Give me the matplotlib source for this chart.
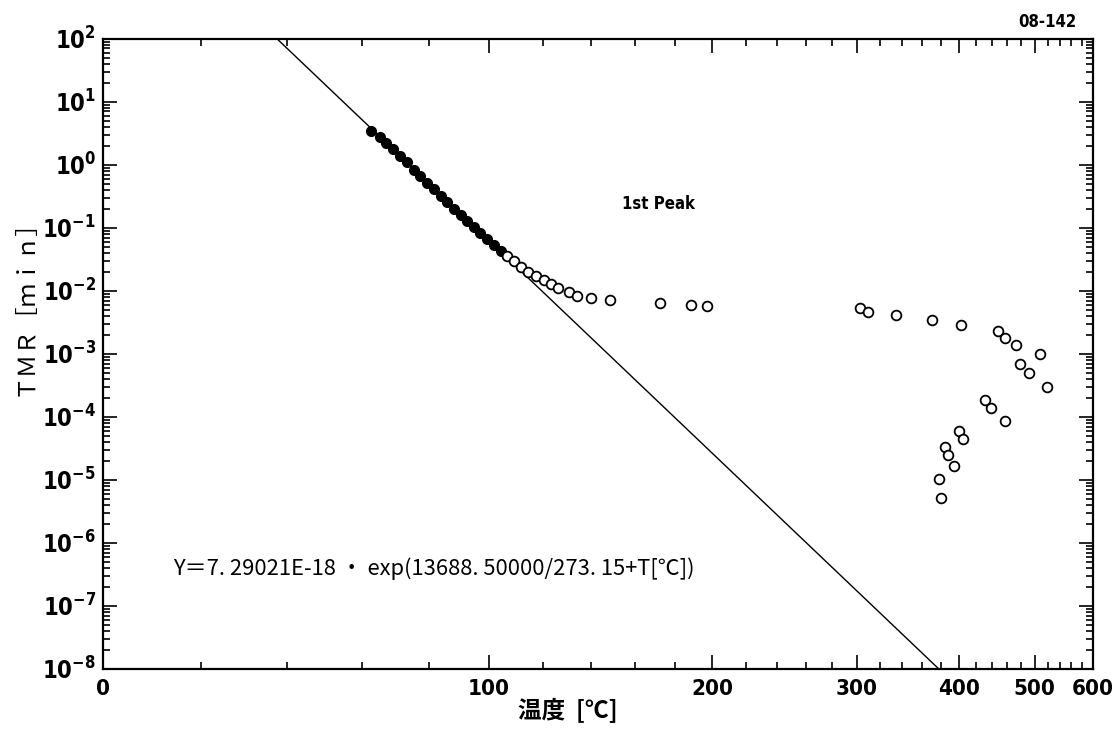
import numpy as np
import matplotlib
matplotlib.use("Agg")
import matplotlib.pyplot as plt
from matplotlib.ticker import FixedLocator, FuncFormatter, NullFormatter, LogLocator

# ---- data ----
filled_T = [62.4, 64.9, 66.9, 68.9, 71.0, 73.1, 75.3, 77.2, 79.4, 81.5,
            83.6, 85.8, 88.0, 90.2, 92.4, 94.6, 96.9, 99.2, 101.6, 104.1]
filled_Y = [3.43, 2.79, 2.24, 1.76, 1.38, 1.09, 0.835, 0.663, 0.514, 0.408,
            0.319, 0.254, 0.201, 0.160, 0.128, 0.103, 0.0818, 0.0657, 0.0533, 0.0433]

open_T = [106.3, 109.0, 111.6, 114.2, 117.2, 120.3, 123.2, 126.0, 130.4, 134.0,
          140.1, 148.4, 172.3, 188.6, 197.3,
          302.5, 309.3, 334.8, 370.5, 402.6, 448.4, 457.4, 472.2, 507.7, 477.9,
          491.4, 519.6,
          431.3, 439.1, 457.7, 400.2, 404.6, 384.2, 387.2, 394.6, 377.7, 379.5]
open_Y = [0.0363, 0.0297, 0.0243, 0.0200, 0.0173, 0.0149, 0.0130, 0.0110, 0.00968, 0.00837,
          0.00761, 0.00707, 0.00648, 0.00602, 0.00568,
          0.00528, 0.00461, 0.00409, 0.00344, 0.00284, 0.00231, 0.00177, 0.00138, 0.000995, 0.000698,
          0.000491, 0.000294,
          0.000185, 0.000136, 0.0000869, 0.0000597, 0.0000451, 0.0000333, 0.0000251, 0.0000168,
          0.0000103, 0.00000516]

line_T = [37.5, 377.5]
line_Y = [1e2, 1e-8]

x_major = [0, 100, 200, 300, 400, 500, 600]
x_minor = list(range(20, 600, 20))
y_decades = list(range(-8, 3))

formula_text = "Y＝7. 29021E-18 ・ exp(13688. 50000/273. 15+T[℃])"
peak_text = "1st Peak"
id_text = "08-142"
xlabel_text = "温度  [℃]"
ylabel_text = "ＴＭＲ［ｍｉｎ］"

# ---- figure ----
plt.rcParams["font.family"] = ["DejaVu Sans"]
plt.rcParams["font.stretch"] = "condensed"
plt.rcParams["font.weight"] = "bold"

fig = plt.figure(figsize=(11.17, 7.29), dpi=100)
ax = fig.add_axes([103 / 1117, 1 - 669 / 729, 990 / 1117, (669 - 38.7) / 729])

def fwd(t):
    t = np.asarray(t, dtype=float)
    return -1.0 / (t + 273.15)

def inv(u):
    u = np.asarray(u, dtype=float)
    return -1.0 / u - 273.15

ax.set_xscale("function", functions=(fwd, inv))
ax.set_yscale("log")
ax.set_xlim(0, 600)
ax.set_ylim(1e-8, 1e2)

ax.plot(line_T, line_Y, color="black", lw=1.0, zorder=2)
ax.plot(filled_T, filled_Y, "o", color="black", ms=7, mec="black", mew=1.0, zorder=3)
ax.plot(open_T, open_Y, "o", mfc="white", mec="black", ms=7, mew=1.3, zorder=3)

ax.xaxis.set_major_locator(FixedLocator(x_major))
ax.xaxis.set_minor_locator(FixedLocator(x_minor))
ax.xaxis.set_minor_formatter(NullFormatter())
ax.set_xticklabels([str(v) for v in x_major])

ax.yaxis.set_major_locator(FixedLocator([10.0 ** k for k in y_decades]))
ax.yaxis.set_minor_locator(LogLocator(base=10, subs=np.arange(2, 10), numticks=30))
ax.yaxis.set_minor_formatter(NullFormatter())
ax.yaxis.set_major_formatter(FuncFormatter(
    lambda v, p: r"$\mathregular{10^{%d}}$" % int(round(np.log10(v)))))

ax.tick_params(which="both", direction="in", top=True, right=True, width=1.2)
ax.tick_params(which="major", length=10)
ax.tick_params(which="minor", length=5)
ax.tick_params(axis="x", which="major", labelsize=16, pad=7)
ax.tick_params(axis="y", which="major", labelsize=17, pad=5)
for s in ax.spines.values():
    s.set_linewidth(1.6)

fig.text(0.5 * (513 + 622) / 1117, 1 - 711 / 729, xlabel_text,
         ha="center", va="center", fontsize=17, fontweight="bold",
         family=["Noto Sans CJK JP", "DejaVu Sans"])
fig.text(25 / 1117, 1 - 302 / 729, ylabel_text, rotation=90, ha="center", va="center",
         fontsize=17, fontweight="normal", family=["Noto Sans CJK JP", "DejaVu Sans"])

fig.text(173 / 1117, 1 - 569 / 729, formula_text, ha="left", va="center", fontsize=15.8,
         fontweight="normal", family=["Noto Sans CJK JP", "DejaVu Sans"])
fig.text(622 / 1117, 1 - 204 / 729, peak_text, ha="left", va="center", fontsize=12)
fig.text(1076 / 1117, 1 - 22 / 729, id_text, ha="right", va="center", fontsize=12)

fig.savefig("out.png", dpi=100)
